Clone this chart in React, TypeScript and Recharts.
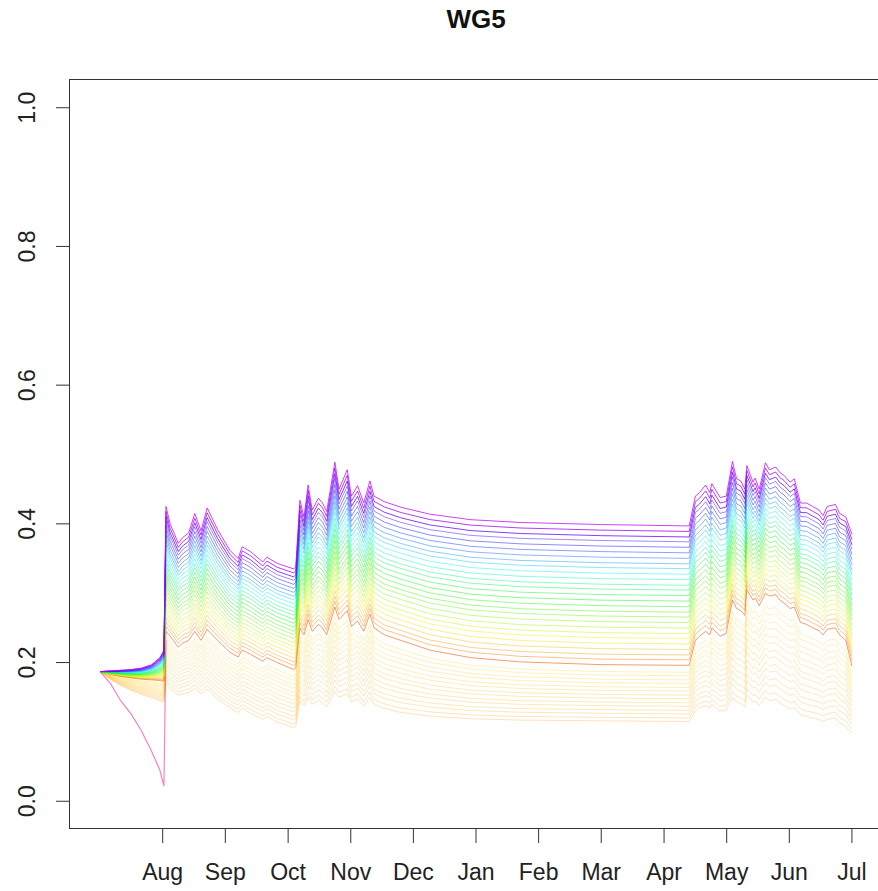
import React from "react";
import { LineChart, Line, XAxis, YAxis } from "recharts";

// knot days (0 = 1 Jul)
const DAYS = [
  0, 5, 10, 15, 20, 25, 29, 31, 32, 34,
  38, 40, 43, 46, 49, 52, 57, 63, 67, 69,
  73, 79, 81, 86, 94, 95, 97, 99, 101, 103,
  106, 108, 110, 114, 116, 120, 122, 125, 128, 131,
  133, 138, 146, 160, 180, 204, 243, 286, 289, 291,
  294, 296, 297, 301, 304, 307, 309, 311, 313, 314,
  317, 318, 320, 323, 325, 328, 330, 332, 335, 337,
  340, 343, 346, 349, 351, 353, 357, 359, 362, 365,
];

// top (magenta) line
const TOP = [
  0.187, 0.188, 0.189, 0.19, 0.192, 0.197, 0.207, 0.218, 0.425, 0.4,
  0.372, 0.38, 0.387, 0.415, 0.39, 0.423, 0.392, 0.362, 0.35, 0.367,
  0.36, 0.345, 0.352, 0.343, 0.335, 0.338, 0.434, 0.41, 0.456, 0.42,
  0.437, 0.43, 0.418, 0.489, 0.45, 0.478, 0.44, 0.455, 0.43, 0.462,
  0.44, 0.432, 0.424, 0.414, 0.406, 0.402, 0.399, 0.397, 0.44, 0.445,
  0.456, 0.445, 0.458, 0.438, 0.44, 0.49, 0.465, 0.462, 0.45, 0.484,
  0.46, 0.466, 0.45, 0.488, 0.478, 0.482, 0.474, 0.47, 0.46, 0.465,
  0.43, 0.43, 0.425, 0.42, 0.412, 0.425, 0.428, 0.415, 0.41, 0.385,
];

// orange line (bottom of the rainbow band)
const ORANGE = [
  0.187, 0.183, 0.18, 0.178, 0.176, 0.175, 0.174, 0.173, 0.245, 0.238,
  0.222, 0.228, 0.232, 0.245, 0.232, 0.248, 0.232, 0.215, 0.208, 0.218,
  0.212, 0.202, 0.207, 0.2, 0.19, 0.192, 0.25, 0.24, 0.262, 0.245,
  0.255, 0.25, 0.24, 0.28, 0.262, 0.275, 0.252, 0.26, 0.245, 0.27,
  0.25, 0.24, 0.232, 0.218, 0.207, 0.201, 0.197, 0.196, 0.232, 0.238,
  0.245, 0.24, 0.25, 0.238, 0.242, 0.29, 0.278, 0.275, 0.268, 0.305,
  0.29, 0.293, 0.282, 0.3, 0.296, 0.298, 0.29, 0.286, 0.278, 0.28,
  0.258, 0.255, 0.25, 0.246, 0.24, 0.248, 0.25, 0.24, 0.232, 0.195,
];

// faintest (lowest) line
const BOTTOM = [
  0.187, 0.176, 0.167, 0.16, 0.154, 0.149, 0.145, 0.143, 0.17, 0.162,
  0.153, 0.155, 0.157, 0.163, 0.155, 0.162, 0.148, 0.135, 0.128, 0.134,
  0.127, 0.118, 0.122, 0.114, 0.106, 0.108, 0.145, 0.138, 0.15, 0.14,
  0.146, 0.142, 0.136, 0.158, 0.15, 0.155, 0.143, 0.148, 0.137, 0.15,
  0.14, 0.134, 0.128, 0.123, 0.119, 0.117, 0.116, 0.115, 0.13, 0.135,
  0.138, 0.135, 0.14, 0.13, 0.132, 0.15, 0.143, 0.141, 0.136, 0.153,
  0.143, 0.145, 0.138, 0.151, 0.145, 0.147, 0.142, 0.138, 0.133, 0.135,
  0.125, 0.122, 0.12, 0.118, 0.115, 0.118, 0.12, 0.113, 0.108, 0.098,
];

// pink line: its July dip, up to the August jump
const PINK_JULY = [0.187, 0.17, 0.145, 0.126, 0.102, 0.072, 0.045, 0.022, 0.232];

// winter plateau levels of each line
const LOW_LEVELS = [
  0.116, 0.121, 0.127, 0.132, 0.138, 0.143, 0.149, 0.154, 0.16, 0.165,
  0.171, 0.176, 0.182, 0.187,
];
const HIGH_LEVELS = [
  0.197, 0.205, 0.212, 0.22, 0.228, 0.236, 0.243, 0.251, 0.259, 0.267,
  0.274, 0.282, 0.29, 0.298, 0.306, 0.313, 0.321, 0.329, 0.337, 0.344,
  0.352, 0.36, 0.368, 0.376, 0.383, 0.391, 0.399,
];

const MONTHS = ["Aug", "Sep", "Oct", "Nov", "Dec", "Jan", "Feb", "Mar", "Apr", "May", "Jun", "Jul"];
const MONTH_TICKS = [30.4, 60.8, 91.3, 121.7, 152.1, 182.5, 212.9, 243.3, 273.8, 304.2, 334.6, 365];
const Y_TICKS = [0, 0.2, 0.4, 0.6, 0.8, 1.0];

const REF = DAYS.indexOf(243);
const FONT = "'Liberation Sans', Arial, sans-serif";

const data = DAYS.map((day, k) => {
  const row: Record<string, number | null> = { day };
  LOW_LEVELS.forEach((lv, i) => {
    const g = (lv - BOTTOM[REF]) / (ORANGE[REF] - BOTTOM[REF]);
    row[`lo${i}`] = BOTTOM[k] + g * (ORANGE[k] - BOTTOM[k]);
  });
  HIGH_LEVELS.forEach((lv, i) => {
    const f = (lv - ORANGE[REF]) / (TOP[REF] - ORANGE[REF]);
    row[`hi${i}`] = ORANGE[k] + f * (TOP[k] - ORANGE[k]);
  });
  row.pink = k < PINK_JULY.length ? PINK_JULY[k] : null;
  return row;
});

function hiColor(i: number) {
  const f = i / (HIGH_LEVELS.length - 1);
  const hue = f < 0.46 ? 22 + (f / 0.46) * 98 : 120 + ((f - 0.46) / 0.54) * 168;
  return `hsl(${hue.toFixed(0)}, 100%, 48%)`;
}

const XTick = ({ x, payload }: any) => (
  <text x={x} y={880} textAnchor="middle" fontSize={23} fill="#222" fontFamily={FONT}>
    {MONTHS[MONTH_TICKS.indexOf(payload.value)]}
  </text>
);

const YTick = ({ y, payload }: any) => (
  <text
    x={35}
    y={y}
    transform={`rotate(-90 35 ${y})`}
    textAnchor="middle"
    fontSize={23}
    fill="#222"
    fontFamily={FONT}
  >
    {Number(payload.value).toFixed(1)}
  </text>
);

export default function App() {
  return (
    <div
      style={{
        position: "absolute",
        left: 0,
        top: 0,
        width: 878,
        height: 891,
        overflow: "hidden",
        background: "#fff",
      }}
    >
      <svg width={878} height={60} style={{ position: "absolute", left: 0, top: 0 }}>
        <text x={476} y={28} textAnchor="middle" fontSize={26} fontWeight="bold" fill="#111" fontFamily={FONT}>
          WG5
        </text>
      </svg>
      <LineChart width={890} height={891} data={data} margin={{ top: 80, right: 8, bottom: 0, left: 0 }}>
        <XAxis
          dataKey="day"
          type="number"
          domain={[-14.6, 379.6]}
          ticks={MONTH_TICKS}
          interval={0}
          height={62}
          tickSize={14}
          axisLine={false}
          tickLine={{ stroke: "#333" }}
          tick={<XTick />}
          allowDataOverflow
        />
        <YAxis
          type="number"
          domain={[-0.04, 1.04]}
          ticks={Y_TICKS}
          interval={0}
          width={70}
          tickSize={14}
          axisLine={false}
          tickLine={{ stroke: "#333" }}
          tick={<YTick />}
          allowDataOverflow
        />
        {LOW_LEVELS.map((_, i) => (
          <Line
            key={`lo${i}`}
            dataKey={`lo${i}`}
            type="linear"
            stroke={`hsl(${36 + i}, 100%, 55%)`}
            strokeOpacity={0.3}
            strokeWidth={1}
            dot={false}
            isAnimationActive={false}
          />
        ))}
        <Line
          dataKey="pink"
          type="linear"
          stroke="#f0449c"
          strokeOpacity={0.65}
          strokeWidth={1.2}
          dot={false}
          connectNulls={false}
          isAnimationActive={false}
        />
        {HIGH_LEVELS.map((_, i) => (
          <Line
            key={`hi${i}`}
            dataKey={`hi${i}`}
            type="linear"
            stroke={hiColor(i)}
            strokeOpacity={i === 0 ? 0.6 : i > HIGH_LEVELS.length - 4 ? 0.75 : 0.45}
            strokeWidth={1}
            dot={false}
            isAnimationActive={false}
          />
        ))}
      </LineChart>
      <div
        style={{
          position: "absolute",
          left: 69,
          top: 79,
          width: 813,
          height: 750,
          border: "1.5px solid #333",
          boxSizing: "border-box",
          pointerEvents: "none",
        }}
      />
    </div>
  );
}
